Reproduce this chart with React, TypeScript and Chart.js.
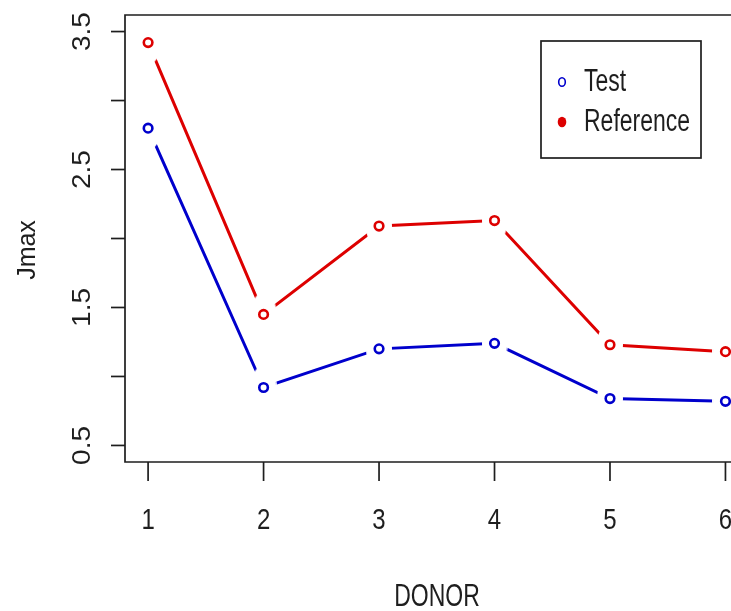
import React, { useEffect, useRef } from "react";
import { Chart, registerables } from "chart.js";

Chart.register(...registerables);

// Donor index on the x axis
const donors = [1, 2, 3, 4, 5, 6];
// Jmax per donor
const testValues = [2.8, 0.92, 1.2, 1.24, 0.84, 0.82];
const referenceValues = [3.42, 1.45, 2.09, 2.13, 1.23, 1.18];
// Axis ticks
const xTicks = [1, 2, 3, 4, 5, 6];
const yTicks = [0.5, 1, 1.5, 2, 2.5, 3, 3.5];
const yTickLabels = ["0.5", "", "1.5", "", "2.5", "", "3.5"];
const legendLabels = ["Test", "Reference"];

const BLUE = "#0000cc";
const RED = "#dd0000";
const INK = "#1e1e1e";
const FONT = '"Liberation Sans", Arial, sans-serif';

// White halo that opens a gap in the connecting line around each point
function makeGapMask(rx: number, ry: number): HTMLCanvasElement {
  const c = document.createElement("canvas");
  c.width = rx * 2;
  c.height = ry * 2;
  const g = c.getContext("2d")!;
  g.fillStyle = "#ffffff";
  g.beginPath();
  g.ellipse(rx, ry, rx, ry, 0, 0, Math.PI * 2);
  g.fill();
  return c;
}

function text(
  ctx: CanvasRenderingContext2D,
  s: string,
  x: number,
  y: number,
  size: number,
  sx: number,
  sy: number,
  rot: number,
  align: CanvasTextAlign
) {
  ctx.save();
  ctx.translate(x, y);
  ctx.rotate(rot);
  ctx.scale(sx, sy);
  ctx.font = `${size}px ${FONT}`;
  ctx.fillStyle = INK;
  ctx.textAlign = align;
  ctx.textBaseline = "middle";
  ctx.fillText(s, 0, 0);
  ctx.restore();
}

const framePlugin = {
  id: "rFrame",
  afterDraw(chart: any) {
    const { ctx, chartArea, width } = chart;
    const xs = chart.scales.x;
    const ys = chart.scales.y;
    const { left, top, bottom } = chartArea;
    // the frame continues past the right edge of the canvas
    const right = Math.max(xs.getPixelForValue(6.2), width + 5);
    ctx.save();
    ctx.strokeStyle = INK;
    ctx.lineWidth = 1.7;
    ctx.beginPath();
    ctx.moveTo(right, top);
    ctx.lineTo(left, top);
    ctx.lineTo(left, bottom);
    ctx.lineTo(right, bottom);
    ctx.stroke();

    // x ticks and labels
    xTicks.forEach((v) => {
      const px = xs.getPixelForValue(v);
      ctx.beginPath();
      ctx.moveTo(px, bottom);
      ctx.lineTo(px, bottom + 19);
      ctx.stroke();
      text(ctx, String(v), px, 521, 24, 1, 1.25, 0, "center");
    });

    // y ticks and rotated labels
    yTicks.forEach((v, i) => {
      const py = ys.getPixelForValue(v);
      ctx.beginPath();
      ctx.moveTo(left, py);
      ctx.lineTo(left - 14, py);
      ctx.stroke();
      if (yTickLabels[i]) {
        text(ctx, yTickLabels[i], 83, py, 25, 1.12, 1, -Math.PI / 2, "center");
      }
    });

    // axis titles
    text(ctx, "DONOR", 437, 597, 23, 1, 1.35, 0, "center");
    text(ctx, "Jmax", 28, 250, 25, 1.0, 1, -Math.PI / 2, "center");

    // legend
    const lx = 541, ly = 41, lw = 160, lh = 117;
    ctx.fillStyle = "#ffffff";
    ctx.fillRect(lx, ly, lw, lh);
    ctx.strokeStyle = INK;
    ctx.lineWidth = 1.7;
    ctx.strokeRect(lx, ly, lw, lh);

    ctx.strokeStyle = BLUE;
    ctx.lineWidth = 1.6;
    ctx.beginPath();
    ctx.ellipse(562, 82, 3.3, 4.3, 0, 0, Math.PI * 2);
    ctx.stroke();
    ctx.fillStyle = RED;
    ctx.beginPath();
    ctx.ellipse(562, 122, 4.3, 5.3, 0, 0, Math.PI * 2);
    ctx.fill();

    text(ctx, legendLabels[0], 584, 82, 23, 1, 1.35, 0, "left");
    text(ctx, legendLabels[1], 584, 122, 23, 1, 1.35, 0, "left");
    ctx.restore();
  },
};

export default function App() {
  const ref = useRef<HTMLCanvasElement>(null);

  useEffect(() => {
    const canvas = ref.current;
    if (!canvas) return;
    const gap = makeGapMask(13, 22);
    const toXY = (vals: number[]) => donors.map((d, i) => ({ x: d, y: vals[i] }));

    const lineDs = (vals: number[], color: string) => ({
      data: toXY(vals),
      borderColor: color,
      borderWidth: 3,
      pointRadius: 0,
      showLine: true,
      fill: false,
      tension: 0,
      order: 3,
    });
    const maskDs = (vals: number[]) => ({
      data: toXY(vals),
      showLine: false,
      pointStyle: gap,
      pointRadius: 13,
      order: 2,
    });
    const pointDs = (vals: number[], color: string) => ({
      data: toXY(vals),
      showLine: false,
      pointStyle: "circle",
      pointRadius: 4.3,
      pointBorderWidth: 2.6,
      pointBorderColor: color,
      pointBackgroundColor: "#ffffff",
      order: 1,
    });

    const chart = new Chart(canvas, {
      type: "scatter",
      data: {
        datasets: [
          lineDs(testValues, BLUE),
          lineDs(referenceValues, RED),
          maskDs(testValues),
          maskDs(referenceValues),
          pointDs(testValues, BLUE),
          pointDs(referenceValues, RED),
        ] as any,
      },
      options: {
        responsive: false,
        maintainAspectRatio: false,
        animation: false,
        layout: {
          autoPadding: false,
          padding: { left: 125, top: 15, right: 0, bottom: 149 },
        },
        scales: {
          x: { type: "linear", min: 0.8, max: 6.048, display: false },
          y: { type: "linear", min: 0.38, max: 3.62, display: false },
        },
        plugins: {
          legend: { display: false },
          tooltip: { enabled: false },
        },
      },
      plugins: [framePlugin],
    });
    return () => chart.destroy();
  }, []);

  return (
    <div
      style={{
        position: "fixed",
        left: 0,
        top: 0,
        width: 731,
        height: 611,
        overflow: "hidden",
        background: "#ffffff",
      }}
    >
      <canvas ref={ref} width={731} height={611} style={{ display: "block" }} />
    </div>
  );
}
